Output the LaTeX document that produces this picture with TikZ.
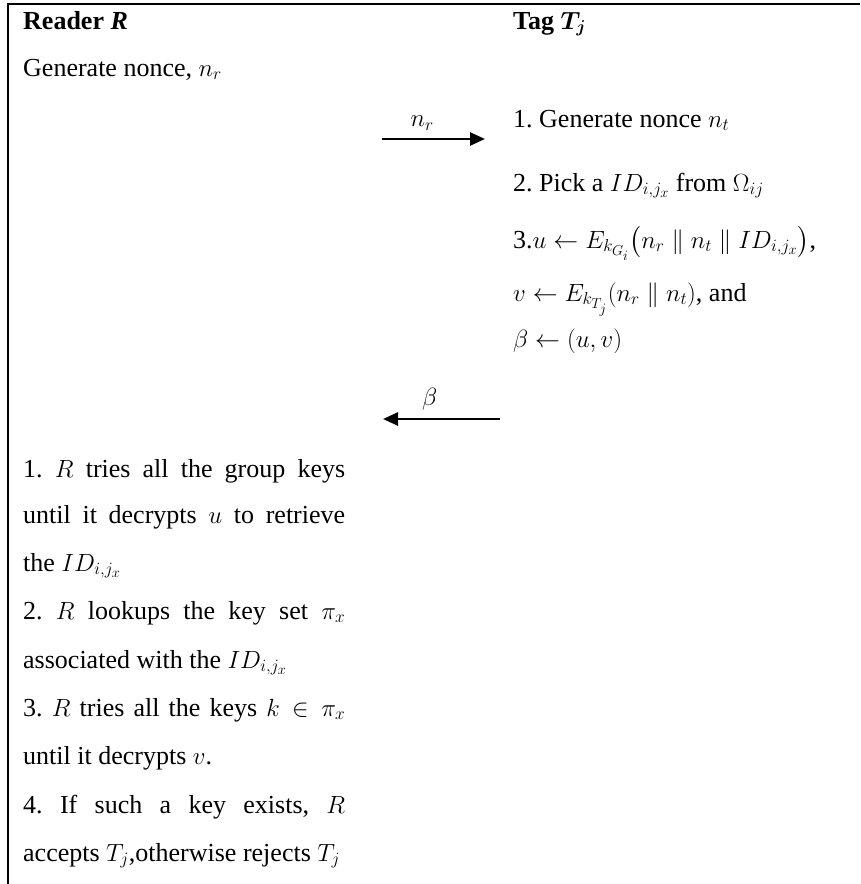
\documentclass[tikz,border=0pt]{standalone}
\usepackage{amsmath,amssymb,bm}
\usepackage{fontspec}
\setmainfont{Liberation Serif}
\usepackage{tikz}
\usetikzlibrary{arrows.meta,positioning}

% one justified line of the reader column
\newcommand{\jline}[1]{\makebox[322pt][s]{#1}}
\frenchspacing
\DeclareMathSizes{26}{26}{19}{15}

\begin{document}
\begin{tikzpicture}[
			x=1pt,
			y=-1pt,
			line cap=butt,
			txt/.style={anchor=base west,inner sep=0pt,font=\fontsize{26}{31}\selectfont},
			msg/.style={line width=2.5pt,-{Triangle[length=15pt,width=13pt]}},
			frame/.style={line width=2.5pt}
			]
			
			\useasboundingbox (0,0) rectangle (860,884);
			
			% column positions
			\def\xR{23}
			\def\xT{513}
			
			%------------------------------
			% Frame
			%------------------------------
			\coordinate (fbot) at (8,884);
			\coordinate (fcorner) at (8,4);
			\coordinate (fright) at (860,4);
			\draw[frame] (fbot) -- (fcorner) -- (fright);
			
			%------------------------------
			% Headers
			%------------------------------
			\node[txt] (reader) at (\xR,29) {\textbf{Reader \textit{R}}};
			\node[txt] (tag) at (\xT,29) {\textbf{Tag} $\bm{T_j}$};
			
			\node[txt] (nonceR) at (\xR,76) {Generate nonce, $n_r$};
			
			%------------------------------
			% Tag side
			%------------------------------
			\node[txt] (t1) at (\xT,127) {1. Generate nonce $n_t$};
			\node[txt] (t2) at (\xT,191) {2. Pick a $ID_{i,j_x}$ from $\Omega_{ij}$};
			\node[txt] (t3) at (\xT,248) {3.$u \leftarrow E_{k_{G_i}}\bigl(n_r \parallel n_t \parallel ID_{i,j_x}\bigr)$,};
			\node[txt] (t4) at (\xT,301) {$v \leftarrow E_{k_{T_j}}(n_r \parallel n_t)$, and};
			\node[txt] (t5) at (\xT,347) {$\beta \leftarrow (u,v)$};
			
			%------------------------------
			% Messages
			%------------------------------
			\coordinate (nrL) at (382,139);
			\coordinate (nrR) at (485,139);
			\draw[msg] (nrL) -- (nrR) node[pos=.39,above=4pt,font=\fontsize{26}{31}\selectfont] (nrlab) {$n_r$};
			
			\coordinate (betaR) at (500,419);
			\coordinate (betaL) at (383,419);
			\draw[msg] (betaR) -- (betaL) node[pos=.6,above=4pt,font=\fontsize{26}{31}\selectfont] (betalab) {$\beta$};
			
			%------------------------------
			% Reader side
			%------------------------------
			\node[txt] (r1a) at (\xR,477) {\jline{1. $R$ tries all the group keys}};
			\node[txt] (r1b) at (\xR,523) {\jline{until it decrypts $u$ to retrieve}};
			\node[txt] (r1c) at (\xR,571) {the $ID_{i,j_x}$};
			\node[txt] (r2a) at (\xR,619) {\jline{2. $R$ lookups the key set $\pi_x$}};
			\node[txt] (r2b) at (\xR,668) {associated with the $ID_{i,j_x}$};
			\node[txt] (r3a) at (\xR,716) {\jline{3. $R$ tries all the keys $k \in \pi_x$}};
			\node[txt] (r3b) at (\xR,764) {until it decrypts $v$.};
			\node[txt] (r4a) at (\xR,813) {\jline{4. If such a key exists, $R$}};
			\node[txt] (r4b) at (\xR,861) {accepts $T_j$,otherwise rejects $T_j$};
		\end{tikzpicture}
\end{document}
